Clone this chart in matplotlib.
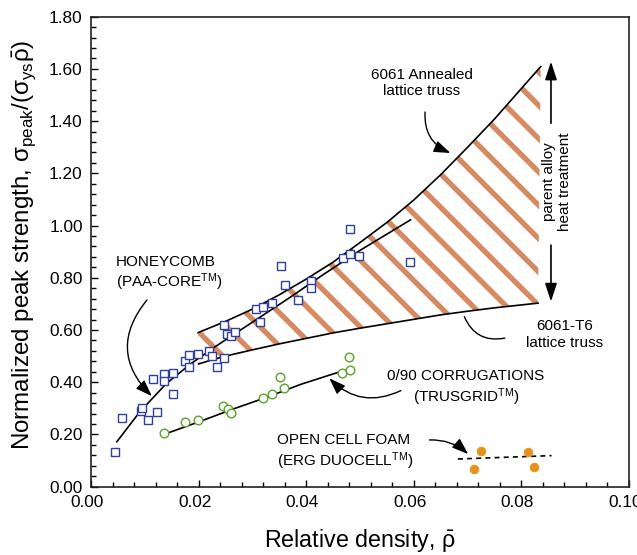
import numpy as np
import matplotlib
matplotlib.use("Agg")
import matplotlib.pyplot as plt
import matplotlib.transforms as mtransforms

# honeycomb (PAA-CORE) data
honey_x = [0.0045, 0.0058, 0.0093, 0.0094, 0.0105, 0.0123, 0.0116, 0.0136, 0.0135, 0.0152,
           0.0153, 0.0175, 0.0183, 0.0183, 0.0199, 0.0219, 0.0224, 0.0234, 0.0247, 0.0247,
           0.0253, 0.0261, 0.0267, 0.0306, 0.0314, 0.0320, 0.0337, 0.0354, 0.0360, 0.0384,
           0.0408, 0.0408, 0.0469, 0.0481, 0.0482, 0.0499, 0.0593]
honey_y = [0.134, 0.262, 0.291, 0.301, 0.256, 0.287, 0.411, 0.431, 0.406, 0.434,
           0.355, 0.483, 0.505, 0.460, 0.507, 0.520, 0.501, 0.460, 0.492, 0.620,
           0.584, 0.579, 0.594, 0.680, 0.632, 0.690, 0.703, 0.847, 0.773, 0.715,
           0.789, 0.760, 0.875, 0.986, 0.892, 0.884, 0.861]
honey_fit_x = [0.0048, 0.0090, 0.0140, 0.0185, 0.0230, 0.0300, 0.0370, 0.0430, 0.0500, 0.0594]
honey_fit_y = [0.172, 0.285, 0.395, 0.470, 0.535, 0.630, 0.725, 0.810, 0.905, 1.022]

# 0/90 corrugations (TRUSGRID)
corr_x = [0.0135, 0.0175, 0.0198, 0.0245, 0.0254, 0.0261, 0.0319, 0.0336, 0.0352, 0.0359,
          0.0480, 0.0466, 0.0481]
corr_y = [0.205, 0.247, 0.256, 0.310, 0.297, 0.284, 0.341, 0.354, 0.421, 0.377,
          0.496, 0.437, 0.447]
corr_fit_x = [0.0138, 0.0200, 0.0265, 0.0330, 0.0390, 0.0458]
corr_fit_y = [0.202, 0.248, 0.298, 0.345, 0.392, 0.437]

# open cell foam (ERG DUOCELL)
foam_x = [0.0724, 0.0712, 0.0813, 0.0824]
foam_y = [0.136, 0.069, 0.133, 0.077]
foam_fit_x = [0.0682, 0.0856]
foam_fit_y = [0.106, 0.119]

# lattice truss bounds
ann_x = [0.0199, 0.025, 0.030, 0.035, 0.040, 0.045, 0.050, 0.055, 0.060, 0.065, 0.070, 0.075, 0.080, 0.0836]
ann_y = [0.590, 0.633, 0.680, 0.735, 0.795, 0.860, 0.935, 1.012, 1.098, 1.195, 1.300, 1.408, 1.525, 1.609]
t6_x = [0.0200, 0.0230, 0.0260, 0.0300, 0.0350, 0.0400, 0.0450, 0.0500, 0.0550, 0.0600, 0.0650, 0.0700, 0.0750, 0.0831]
t6_y = [0.470, 0.489, 0.505, 0.524, 0.547, 0.568, 0.589, 0.607, 0.624, 0.641, 0.658, 0.672, 0.685, 0.703]

x_ticks = [0.00, 0.02, 0.04, 0.06, 0.08, 0.10]
y_ticks = [0.00, 0.20, 0.40, 0.60, 0.80, 1.00, 1.20, 1.40, 1.60, 1.80]

plt.rcParams['font.family'] = ['Liberation Sans', 'DejaVu Sans']
plt.rcParams['mathtext.fontset'] = 'custom'
plt.rcParams['mathtext.rm'] = 'Liberation Sans'
plt.rcParams['mathtext.it'] = 'Liberation Sans'
plt.rcParams['mathtext.default'] = 'regular'
plt.rcParams['hatch.linewidth'] = 1.9

DPI = 200
fig = plt.figure(figsize=(637 / DPI, 555 / DPI), dpi=DPI)
ax = fig.add_axes([0.1429, 0.1231, 0.8445, 0.8468])

# hatched band between the two truss curves
band_x = np.concatenate([ann_x, t6_x[::-1]])
band_y = np.concatenate([ann_y, t6_y[::-1]])
ax.fill(band_x, band_y, facecolor='none', edgecolor='#d68a62', linewidth=0, hatch='\\\\')

lw = 0.6
ax.plot(ann_x, ann_y, color='black', lw=lw)
ax.plot(t6_x, t6_y, color='black', lw=lw)
ax.plot(honey_fit_x, honey_fit_y, color='black', lw=lw)
ax.plot(corr_fit_x, corr_fit_y, color='black', lw=lw)
ax.plot(foam_fit_x, foam_fit_y, color='black', lw=lw, ls=(0, (3, 2.5)))

ax.plot(honey_x, honey_y, ls='none', marker='s', ms=3.0, mfc='white', mec='#2f3f9c', mew=0.5)
ax.plot(corr_x, corr_y, ls='none', marker='o', ms=3.1, mfc='white', mec='#5aa32c', mew=0.5)
ax.plot(foam_x, foam_y, ls='none', marker='o', ms=3.1, mfc='#e8921c', mec='#e8921c', mew=0.3)

ax.set_xlim(0, 0.10)
ax.set_ylim(0, 1.80)
ax.set_xticks(x_ticks)
ax.set_yticks(y_ticks)
ax.set_xticklabels([f'{v:.2f}' for v in x_ticks])
ax.set_yticklabels([f'{v:.2f}' for v in y_ticks])
ax.set_xticks(np.arange(0, 0.1001, 0.004), minor=True)
ax.set_yticks(np.arange(0, 1.8001, 0.04), minor=True)
ax.tick_params(which='both', direction='in', top=False, right=False, labelsize=6.2,
               width=0.5, pad=3)
ax.tick_params(which='major', length=2.6)
ax.tick_params(which='minor', length=1.8)
for s in ax.spines.values():
    s.set_linewidth(0.6)
    s.set_color('#222222')

# x tick labels sit a few pixels left of their ticks in the original
shift = mtransforms.ScaledTranslation(-4 / DPI, 0, fig.dpi_scale_trans)
for lab in ax.get_xticklabels():
    lab.set_transform(lab.get_transform() + shift)

ax.set_xlabel(r'Relative density, $\bar{\rho}$', fontsize=8.4, labelpad=6)
ax.set_ylabel(r'Normalized peak strength, $\sigma_{peak}/(\sigma_{ys}\bar{\rho})$', fontsize=8.7)
ax.yaxis.set_label_coords(-0.098, 0.514)

fs = 5.5
ax.text(0.0615, 1.546, '6061 Annealed\nlattice truss', fontsize=fs, ha='center', va='center')
ax.text(0.0880, 0.583, '6061-T6\nlattice truss', fontsize=fs, ha='center', va='center')
ax.text(0.00466, 0.815, 'HONEYCOMB\n(PAA-CORE$^{TM}$)', fontsize=fs, ha='left', va='center')
ax.text(0.0697, 0.375, '0/90 CORRUGATIONS\n(TRUSGRID$^{TM}$)', fontsize=fs, ha='center', va='center',
        multialignment='center')
ax.text(0.0346, 0.131, 'OPEN CELL FOAM\n(ERG DUOCELL$^{TM}$)', fontsize=fs, ha='left', va='center')
ax.text(0.0866, 1.169, 'parent alloy\nheat treatment', fontsize=fs, ha='center', va='center',
        rotation=90, multialignment='center')

arrow = dict(arrowstyle='-|>,head_length=0.5,head_width=0.18', color='black', lw=0.5,
             shrinkA=0, shrinkB=0)
ax.annotate('', xy=(0.0668, 1.278), xytext=(0.0621, 1.435),
            arrowprops=dict(arrow, connectionstyle='arc3,rad=0.35'))
ax.annotate('', xy=(0.0113, 0.347), xytext=(0.0104, 0.715),
            arrowprops=dict(arrow, connectionstyle='arc3,rad=0.45'))
ax.annotate('', xy=(0.0694, 0.651), xytext=(0.0769, 0.569),
            arrowprops=dict(arrowstyle='-', color='black', lw=0.5, shrinkA=0, shrinkB=0,
                            connectionstyle='arc3,rad=-0.4'))
ax.annotate('', xy=(0.0443, 0.415), xytext=(0.0576, 0.368),
            arrowprops=dict(arrow, connectionstyle='arc3,rad=-0.35'))
ax.annotate('', xy=(0.0701, 0.125), xytext=(0.0629, 0.179),
            arrowprops=dict(arrow, connectionstyle='arc3,rad=-0.2'))

big = dict(arrowstyle='-|>,head_length=0.55,head_width=0.18', color='black', lw=0.6,
           shrinkA=0, shrinkB=0)
ax.annotate('', xy=(0.0855, 1.628), xytext=(0.0855, 1.392), arrowprops=big)
ax.annotate('', xy=(0.0855, 0.709), xytext=(0.0855, 0.925), arrowprops=big)

fig.savefig('out.png', dpi=DPI)
